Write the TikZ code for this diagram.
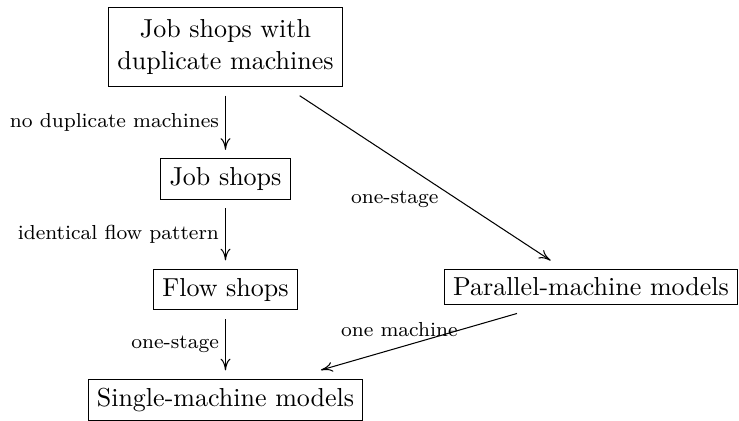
\documentclass[tikz,border=0pt]{standalone}
\usepackage{tikz}
\usetikzlibrary{arrows.meta}
\begin{document}
\begin{tikzpicture}
    \tikzstyle{model}=[draw, rectangle, align=center]
    \tikzstyle{reduce}=[-{To[length=4.5pt, width=3.8pt]}, shorten >=3.3pt, shorten <=3.3pt]
    \tikzstyle{why}=[font=\fontsize{7.8}{9}\selectfont]
    \useasboundingbox (0,0) rectangle (9.986,5.689);
    % Draw the models
    \node[model, inner ysep=4.8pt] (jsd) at (3.047,5.054) {Job shops with\\duplicate machines};
    \node[model] (js) at (3.047,3.268) {Job shops};
    \node[model] (fs) at (3.047,1.774) {Flow shops};
    \node[model] (sm) at (3.047,0.284) {Single-machine models};
    \node[model] (pm) at (7.986,1.811) {Parallel-machine models};
    % Draw the reductions
    \draw[reduce] (jsd) to node[why, left, xshift=1pt] {no duplicate machines} (js);
    \draw[reduce] (js) to node[why, left, xshift=1pt] {identical flow pattern} (fs);
    \draw[reduce] (fs) to node[why, left, xshift=1pt] {one-stage} (sm);
    \draw[reduce, shorten >=5.7pt, shorten <=6pt] (jsd) to
        node[why, below left, xshift=8.8pt, yshift=-1.5pt] {one-stage} (pm);
    \draw[reduce, shorten >=0pt, shorten <=0pt] ([shift={(-1.0,-0.11)}]pm.south) to
        node[why, pos=0.6, above, yshift=0.6pt] {one machine} ([shift={(1.29,0.12)}]sm.north);
\end{tikzpicture}
\end{document}
